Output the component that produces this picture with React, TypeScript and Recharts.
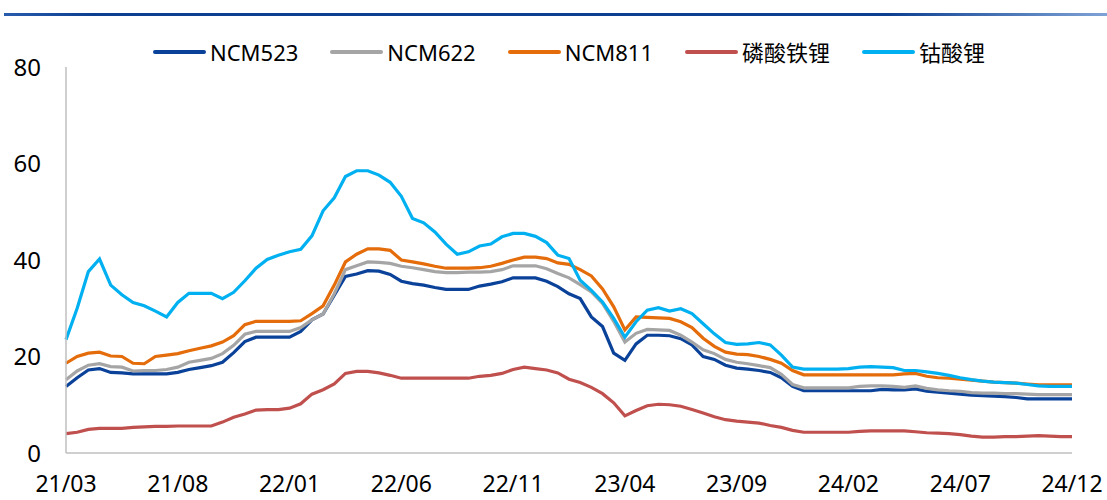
import React from 'react';
import { LineChart, Line, XAxis, YAxis, Legend } from 'recharts';

// x 轴刻度（每 5 个月一个），数据为半月一个点，从 21/03 到 24/12
const TICK_LABELS = ['21/03', '21/08', '22/01', '22/06', '22/11', '23/04', '23/09', '24/02', '24/07', '24/12'];
const Y_TICKS = [0, 20, 40, 60, 80];

const NCM523 = [
  13.8, 15.6, 17.2, 17.5, 16.7, 16.6, 16.4, 16.4, 16.4, 16.4,
  16.7, 17.3, 17.7, 18.1, 18.8, 20.8, 23.1, 24.0, 24.0, 24.0,
  24.0, 25.2, 27.6, 28.8, 32.7, 36.6, 37.1, 37.8, 37.7, 37.0,
  35.6, 35.1, 34.8, 34.3, 33.9, 33.9, 33.9, 34.6, 35.0, 35.5,
  36.3, 36.3, 36.3, 35.6, 34.5, 33.0, 32.0, 28.2, 26.2, 20.7,
  19.2, 22.6, 24.4, 24.4, 24.3, 23.7, 22.4, 20.0, 19.4, 18.2,
  17.6, 17.4, 17.1, 16.7, 15.6, 13.8, 12.9, 12.9, 12.9, 12.9,
  12.9, 12.9, 12.9, 13.2, 13.1, 13.1, 13.3, 12.8, 12.6, 12.4,
  12.2, 12.0, 11.9, 11.8, 11.7, 11.5, 11.2, 11.2, 11.2, 11.2, 11.2,
];

const NCM622 = [
  15.2, 17.0, 18.2, 18.5, 17.9, 17.8, 17.0, 17.1, 17.1, 17.3,
  17.8, 18.8, 19.2, 19.6, 20.6, 22.3, 24.6, 25.2, 25.2, 25.2,
  25.2, 26.0, 27.6, 28.8, 33.0, 38.0, 38.8, 39.6, 39.5, 39.3,
  38.7, 38.4, 38.0, 37.6, 37.4, 37.4, 37.5, 37.5, 37.6, 38.0,
  38.8, 38.8, 38.8, 38.2, 37.2, 36.3, 34.9, 33.4, 31.0, 27.3,
  23.0, 24.8, 25.6, 25.5, 25.4, 24.4, 23.0, 21.4, 20.6, 19.4,
  18.8, 18.5, 18.1, 17.7, 16.3, 14.2, 13.5, 13.5, 13.5, 13.5,
  13.5, 13.8, 13.9, 13.9, 13.8, 13.6, 13.9, 13.4, 13.1, 12.9,
  12.8, 12.5, 12.4, 12.4, 12.3, 12.3, 12.2, 12.1, 12.1, 12.1, 12.1,
];

const NCM811 = [
  18.6, 20.0, 20.7, 20.9, 20.1, 20.0, 18.6, 18.5, 20.0, 20.3,
  20.6, 21.2, 21.7, 22.2, 23.0, 24.3, 26.6, 27.3, 27.3, 27.3,
  27.3, 27.4, 28.9, 30.5, 34.8, 39.6, 41.2, 42.3, 42.3, 42.0,
  40.0, 39.6, 39.2, 38.7, 38.3, 38.3, 38.3, 38.4, 38.7, 39.3,
  40.0, 40.6, 40.6, 40.3, 39.4, 39.1, 38.0, 36.7, 34.0, 30.3,
  25.5, 28.2, 28.1, 28.0, 27.9, 27.2, 26.0, 23.8, 22.1, 20.9,
  20.5, 20.4, 20.0, 19.4, 18.6, 17.1, 16.2, 16.2, 16.2, 16.2,
  16.2, 16.2, 16.2, 16.2, 16.2, 16.4, 16.5, 15.9, 15.6, 15.5,
  15.3, 15.1, 14.9, 14.7, 14.6, 14.5, 14.3, 14.1, 14.1, 14.1, 14.1,
];

const LFP = [
  4.0, 4.3, 4.9, 5.1, 5.1, 5.1, 5.3, 5.4, 5.5, 5.5,
  5.6, 5.6, 5.6, 5.6, 6.4, 7.4, 8.1, 8.9, 9.0, 9.0,
  9.3, 10.2, 12.2, 13.1, 14.3, 16.5, 16.9, 16.9, 16.6, 16.1,
  15.5, 15.5, 15.5, 15.5, 15.5, 15.5, 15.5, 15.9, 16.1, 16.5,
  17.3, 17.8, 17.5, 17.2, 16.6, 15.3, 14.6, 13.6, 12.3, 10.4,
  7.7, 8.8, 9.8, 10.1, 10.0, 9.7, 9.0, 8.3, 7.5, 6.9,
  6.6, 6.4, 6.2, 5.7, 5.3, 4.7, 4.3, 4.3, 4.3, 4.3,
  4.3, 4.5, 4.6, 4.6, 4.6, 4.6, 4.4, 4.2, 4.1, 4.0,
  3.8, 3.5, 3.3, 3.3, 3.4, 3.4, 3.5, 3.6, 3.5, 3.4, 3.4,
];

const LCO = [
  23.5, 30.0, 37.6, 40.2, 34.8, 32.8, 31.2, 30.5, 29.4, 28.2,
  31.2, 33.1, 33.1, 33.1, 32.0, 33.3, 35.7, 38.3, 40.1, 41.0,
  41.7, 42.2, 45.0, 50.2, 52.9, 57.3, 58.5, 58.5, 57.6, 56.1,
  53.2, 48.6, 47.7, 45.8, 43.3, 41.2, 41.7, 42.9, 43.3, 44.8,
  45.5, 45.5, 44.9, 43.6, 41.0, 40.3, 35.8, 33.7, 31.3, 27.9,
  24.0, 27.2, 29.6, 30.1, 29.4, 29.9, 28.9, 26.8, 24.7, 22.9,
  22.5, 22.6, 22.9, 22.4, 20.3, 17.8, 17.4, 17.4, 17.4, 17.4,
  17.5, 17.8, 17.9, 17.8, 17.7, 17.1, 17.1, 16.8, 16.5, 16.1,
  15.6, 15.2, 14.9, 14.7, 14.6, 14.5, 14.2, 13.9, 13.8, 13.8, 13.8,
];

const SERIES = [
  { key: 'NCM523', values: NCM523, color: '#0A4199' },
  { key: 'NCM622', values: NCM622, color: '#A5A5A5' },
  { key: 'NCM811', values: NCM811, color: '#E46C0A' },
  { key: '磷酸铁锂', values: LFP, color: '#C0504D' },
  { key: '钴酸锂', values: LCO, color: '#00B0F0' },
];

const FONT = '"Noto Sans", "Noto Sans CJK SC", sans-serif';

// 横轴用月份偏移（半月一个点）
const chartData = NCM523.map((_, i) => {
  const row: { [k: string]: number } = { m: i / 2 };
  SERIES.forEach(s => { row[s.key] = s.values[i]; });
  return row;
});

const renderLegend = (props: any) => {
  const { payload } = props;
  return (
    <div style={{ display: 'flex', justifyContent: 'center', alignItems: 'center', gap: 32, fontFamily: FONT, fontSize: 22, color: '#000' }}>
      {(payload || []).map((entry: any) => (
        <div key={entry.value} style={{ display: 'flex', alignItems: 'center' }}>
          <span style={{ display: 'inline-block', width: 53, height: 4, borderRadius: 2, background: entry.color, marginRight: 4 }} />
          <span style={{ lineHeight: '28px' }}>{entry.value}</span>
        </div>
      ))}
    </div>
  );
};

export default function App() {
  return (
    <div style={{ position: 'absolute', left: 0, top: 0, width: 1107, height: 500, background: '#fff', fontFamily: FONT }}>
      {/* 顶部蓝色分隔线 */}
      <div style={{
        position: 'absolute', left: 4, top: 13, width: 1103, height: 3,
        background: 'linear-gradient(to right, #2a5cae, #0d3f90 8%, #0d3f90 80%, #7fa3d6)',
      }} />
      {/* 图例高度约 29px，会计入上边距 */}
      <LineChart width={1107} height={500} data={chartData} margin={{ top: 39, right: 35, bottom: 0, left: 0 }}>
        <XAxis
          dataKey="m"
          type="number"
          domain={[0, 45]}
          ticks={TICK_LABELS.map((_, i) => i * 5)}
          tickFormatter={(v: number) => TICK_LABELS[Math.round(v / 5)]}
          axisLine={{ stroke: '#BFBFBF', strokeWidth: 1.5 }}
          tickLine={false}
          tickSize={0}
          tickMargin={23}
          tick={{ fill: '#000', fontSize: 23, fontFamily: FONT }}
          interval={0}
          height={47}
        />
        <YAxis
          domain={[0, 80]}
          ticks={Y_TICKS}
          axisLine={{ stroke: '#BFBFBF', strokeWidth: 1.5 }}
          tickLine={false}
          tickSize={0}
          tickMargin={25}
          tick={{ fill: '#000', fontSize: 24, fontFamily: FONT }}
          width={66}
        />
        <Legend
          verticalAlign="top"
          content={renderLegend}
          wrapperStyle={{ top: 38, left: 66, width: 1006 }}
        />
        {SERIES.map(s => (
          <Line
            key={s.key}
            type="linear"
            dataKey={s.key}
            stroke={s.color}
            strokeWidth={3.2}
            dot={false}
            activeDot={false}
            isAnimationActive={false}
          />
        ))}
      </LineChart>
    </div>
  );
}
